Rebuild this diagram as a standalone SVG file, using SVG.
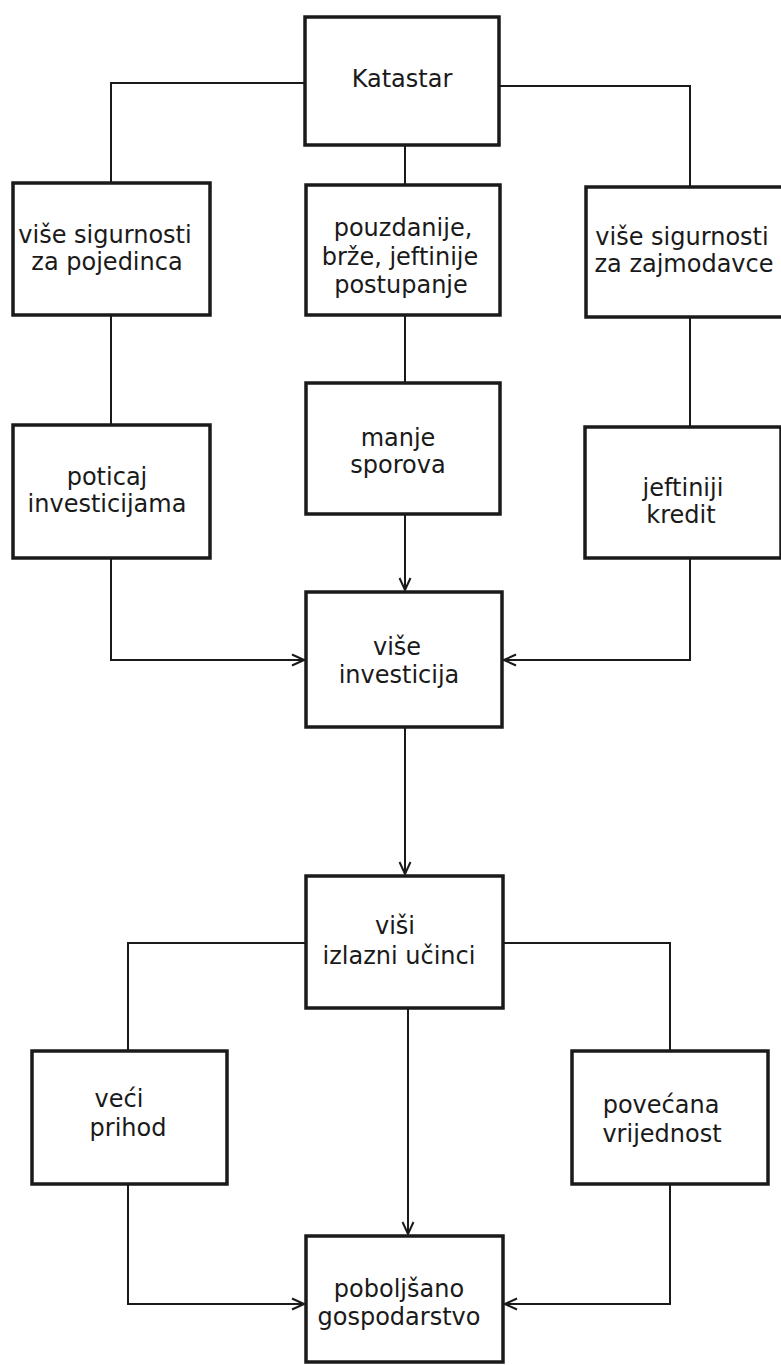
<svg xmlns="http://www.w3.org/2000/svg" width="781" height="1365" viewBox="0 0 781 1365">
<style>
.box{fill:#fff;stroke:#1a1a1a;stroke-width:3.5}
.t{font-family:"DejaVu Sans",sans-serif;font-size:24px;fill:#1a1a1a;text-anchor:middle}
.c{fill:none;stroke:#1a1a1a;stroke-width:2}
</style>
<defs>
<marker id="arr" markerUnits="userSpaceOnUse" markerWidth="14" markerHeight="14" viewBox="0 0 14 14" refX="13" refY="7" orient="auto">
<path d="M1,1.5 L13,7 L1,12.5" fill="none" stroke="#1a1a1a" stroke-width="2"/>
</marker>
</defs>
<rect width="781" height="1365" fill="#fff"/>
<g id="connectors">
<path class="c" d="M304,83 H111 V183"/>
<path class="c" d="M499,86 H690 V187"/>
<path class="c" d="M405,145 V185"/>
<path class="c" d="M111,315 V425"/>
<path class="c" d="M405,315 V383"/>
<path class="c" d="M690,317 V427"/>
<path class="c" d="M405,514 V590" marker-end="url(#arr)"/>
<path class="c" d="M111,559 V660 H304" marker-end="url(#arr)"/>
<path class="c" d="M690,559 V660 H504" marker-end="url(#arr)"/>
<path class="c" d="M405,727 V874" marker-end="url(#arr)"/>
<path class="c" d="M306,943 H128 V1051"/>
<path class="c" d="M503,943 H670 V1051"/>
<path class="c" d="M408,1008 V1234" marker-end="url(#arr)"/>
<path class="c" d="M128,1184 V1304 H304" marker-end="url(#arr)"/>
<path class="c" d="M670,1184 V1304 H505" marker-end="url(#arr)"/>
</g>
<g id="katastar"><rect class="box" x="305" y="17" width="194" height="128"/><text class="t" x="402" y="87">Katastar</text></g>
<g id="sigurnost-pojedinca"><rect class="box" x="13" y="183" width="197" height="132"/><text class="t" x="105" y="243">više sigurnosti</text><text class="t" x="107" y="270">za pojedinca</text></g>
<g id="pouzdanije"><rect class="box" x="306" y="185" width="194" height="130"/><text class="t" x="403" y="236">pouzdanije,</text><text class="t" x="400" y="265">brže, jeftinije</text><text class="t" x="401" y="293">postupanje</text></g>
<g id="sigurnost-zajmodavce"><rect class="box" x="586" y="187" width="197" height="130"/><text class="t" x="682" y="245">više sigurnosti</text><text class="t" x="684" y="272">za zajmodavce</text></g>
<g id="poticaj"><rect class="box" x="13" y="425" width="197" height="133"/><text class="t" x="107" y="485">poticaj</text><text class="t" x="107" y="512">investicijama</text></g>
<g id="manje-sporova"><rect class="box" x="306" y="383" width="194" height="131"/><text class="t" x="398" y="446">manje</text><text class="t" x="398" y="473">sporova</text></g>
<g id="jeftiniji-kredit"><rect class="box" x="585" y="427" width="196" height="131"/><text class="t" x="683" y="496">jeftiniji</text><text class="t" x="681" y="523">kredit</text></g>
<g id="vise-investicija"><rect class="box" x="306" y="592" width="196" height="135"/><text class="t" x="397" y="655">više</text><text class="t" x="399" y="683">investicija</text></g>
<g id="visi-ucinci"><rect class="box" x="306" y="876" width="197" height="132"/><text class="t" x="395" y="934">viši</text><text class="t" x="399" y="964">izlazni učinci</text></g>
<g id="veci-prihod"><rect class="box" x="32" y="1051" width="195" height="133"/><text class="t" x="119" y="1107">veći</text><text class="t" x="128" y="1136">prihod</text></g>
<g id="povecana-vrijednost"><rect class="box" x="572" y="1051" width="196" height="133"/><text class="t" x="661" y="1113">povećana</text><text class="t" x="662" y="1142">vrijednost</text></g>
<g id="poboljsano"><rect class="box" x="306" y="1236" width="197" height="126"/><text class="t" x="399" y="1297">poboljšano</text><text class="t" x="399" y="1325">gospodarstvo</text></g>
</svg>
